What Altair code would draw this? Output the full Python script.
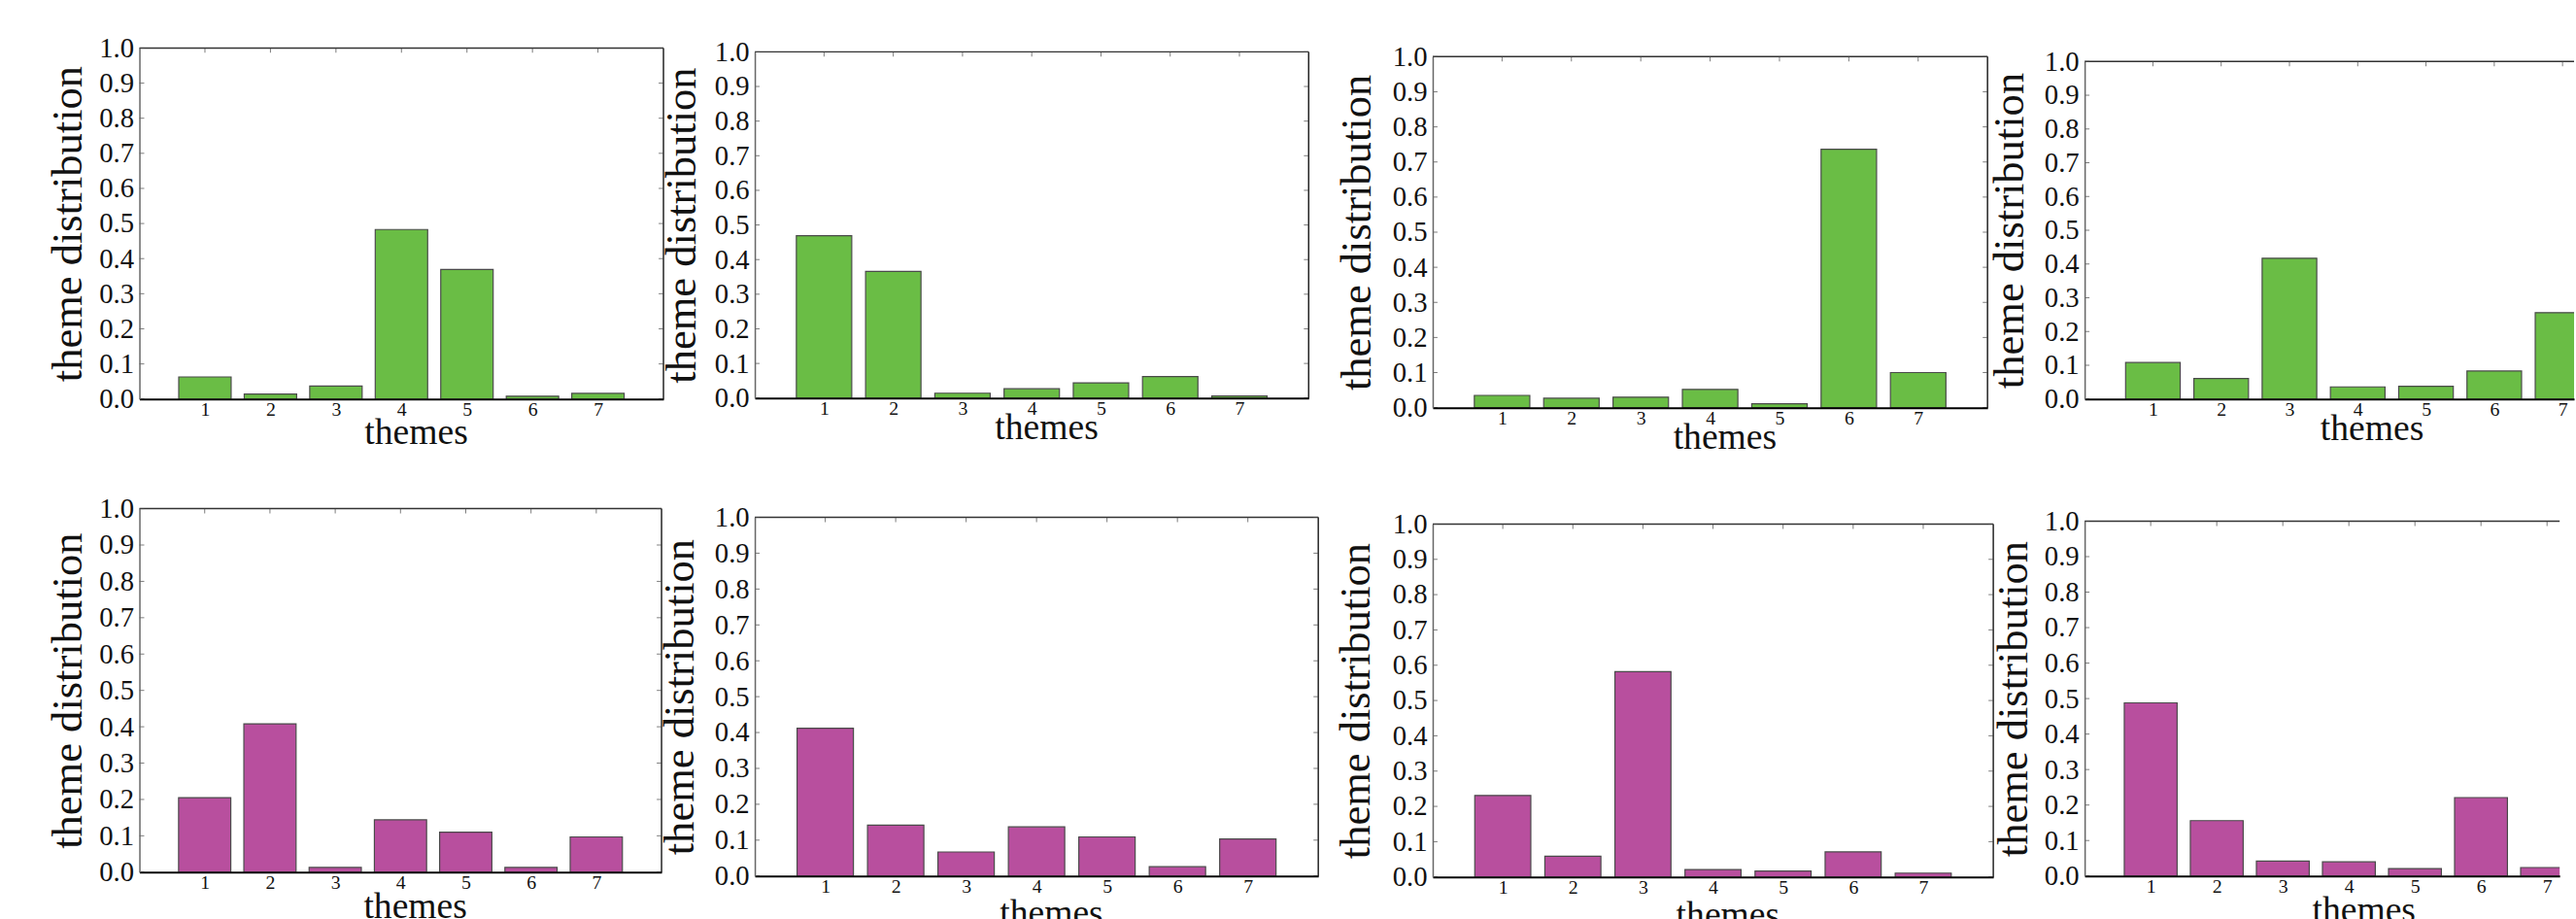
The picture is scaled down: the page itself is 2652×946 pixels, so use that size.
import altair as alt
import pandas as pd

# ---------------- data ----------------
themes = [1, 2, 3, 4, 5, 6, 7]
y_ticks = [0.0, 0.1, 0.2, 0.3, 0.4, 0.5, 0.6, 0.7, 0.8, 0.9, 1.0]
x_title = "themes"
y_title = "theme distribution"

green_1 = [0.063, 0.014, 0.037, 0.483, 0.369, 0.008, 0.016]
green_2 = [0.469, 0.366, 0.014, 0.027, 0.044, 0.062, 0.006]
green_3 = [0.035, 0.027, 0.030, 0.052, 0.011, 0.736, 0.100]
green_4 = [0.108, 0.061, 0.417, 0.036, 0.038, 0.083, 0.256]
magenta_1 = [0.205, 0.408, 0.013, 0.144, 0.110, 0.013, 0.097]
magenta_2 = [0.412, 0.142, 0.067, 0.137, 0.109, 0.026, 0.103]
magenta_3 = [0.231, 0.059, 0.582, 0.021, 0.017, 0.071, 0.011]
magenta_4 = [0.488, 0.156, 0.042, 0.040, 0.021, 0.221, 0.024]

GREEN = "#6ABD45"
MAGENTA = "#B84F9E"
FONT = "Liberation Serif"


def spacer(w, h):
    return alt.Chart(pd.DataFrame({"s": [0]})).mark_point(size=0, opacity=0).encode(
        x=alt.X("s:Q", axis=None, scale=alt.Scale(domain=[-1, 1])),
        y=alt.Y("s:Q", axis=None, scale=alt.Scale(domain=[-1, 1])),
    ).properties(width=w, height=h)


def panel(values, color, w, dy, h, xmax, ytx, xtx, xty):
    H = dy + h  # group height; plot occupies [dy, dy+h]
    df = pd.DataFrame({"theme": themes, "value": values})
    xs = alt.Scale(domain=[0, xmax], nice=False, zero=False)
    ys = alt.Scale(domain=[0, 1], nice=False, range=[H, dy])
    x_axis = alt.Axis(
        values=themes, format="d", title=x_title,
        labelFontSize=20, labelPadding=1, labelFlush=False, labelOverlap=False,
        ticks=False, tickSize=0, domainColor="#000000", domainWidth=2,
        titleFontSize=38, titleX=xtx, titleY=xty, titleBaseline="alphabetic",
        titleAlign="center", zindex=1,
    )
    y_axis = alt.Axis(
        values=y_ticks, format=".1f", title=y_title,
        labelFontSize=29, labelPadding=6, labelOverlap=False, labelSeparation=0,
        ticks=False, tickSize=0, domainColor="#666666", domainWidth=1.5,
        titleFontSize=45, titleX=ytx, titleY=dy + h / 2, titleAngle=270,
        titleBaseline="alphabetic", titleAlign="center", zindex=1,
    )
    bars = alt.Chart(df).transform_calculate(
        x0="datum.theme - 0.4", x1="datum.theme + 0.4"
    ).mark_bar(fill=color, stroke="#4a4a4a", strokeWidth=1.2, clip=True).encode(
        x=alt.X("x0:Q", scale=xs, axis=x_axis),
        x2="x1:Q",
        y=alt.Y("value:Q", scale=ys, axis=y_axis),
        y2=alt.Y2Datum(0),
    )
    one = pd.DataFrame({"k": [0]})
    top_rule = alt.Chart(one).mark_rule(color="#333333", strokeWidth=1.5).encode(
        y=alt.YDatum(1.0, scale=ys, axis=y_axis)
    )
    tdf = pd.DataFrame({"t": themes})
    top_ticks = alt.Chart(tdf).mark_tick(
        orient="vertical", size=5, thickness=1, yOffset=2.5, color="#444444"
    ).encode(
        x=alt.X("t:Q", scale=xs, axis=x_axis),
        y=alt.YDatum(1.0, scale=ys, axis=y_axis),
    )
    ydf = pd.DataFrame({"t": y_ticks})
    left_ticks = alt.Chart(ydf).mark_tick(
        orient="horizontal", size=5, thickness=1, xOffset=2.5, color="#444444"
    ).encode(
        x=alt.XDatum(0, scale=xs, axis=x_axis),
        y=alt.Y("t:Q", scale=ys, axis=y_axis),
    )
    layers = [bars, top_rule, top_ticks, left_ticks]
    if xmax >= 8:
        right_rule = alt.Chart(one).mark_rule(color="#222222", strokeWidth=1.5).encode(
            x=alt.XDatum(8, scale=xs, axis=x_axis),
            y=alt.YDatum(0, scale=ys, axis=y_axis),
            y2=alt.Y2Datum(1),
        )
        right_ticks = alt.Chart(ydf).mark_tick(
            orient="horizontal", size=5, thickness=1, xOffset=-2.5, color="#444444"
        ).encode(
            x=alt.XDatum(8, scale=xs, axis=x_axis),
            y=alt.Y("t:Q", scale=ys, axis=y_axis),
        )
        layers += [right_rule, right_ticks]
    return alt.layer(*layers).properties(width=w, height=H)


# row 1 starts at y=44, row 2 at y=523 (plot areas offset inside via dy)
P1 = panel(green_1, GREEN, 545, 0, 365, 8, -61, 287.5, 46)
P2 = panel(green_2, GREEN, 576, 4, 360, 8, -62, 303, 42)
P3 = panel(green_3, GREEN, 577, 9, 365, 8, -65, 303.5, 42)
P4 = panel(green_4, GREEN, 509, 14, 351, 509 / 71.0, -64, 298.5, 42)
P5 = panel(magenta_1, MAGENTA, 543, 0, 378, 8, -61, 286.5, 47)
P6 = panel(magenta_2, MAGENTA, 586, 9, 373, 8, -64, 308, 50)
P7 = panel(magenta_3, MAGENTA, 583, 16, 367, 8, -66, 306.5, 51)
P8 = panel(magenta_4, MAGENTA, 494, 13, 369, 494 / 68.7, -60, 290, 47)

items = [
    spacer(1, 44), spacer(1, 1), spacer(1, 1), spacer(1, 1), spacer(1, 1), spacer(1, 1), spacer(1, 1), spacer(1, 1),
    spacer(142, 1), P1, spacer(90, 1), P2, spacer(119, 1), P3, spacer(94, 1), P4,
    spacer(1, 105), spacer(1, 1), spacer(1, 1), spacer(1, 1), spacer(1, 1), spacer(1, 1), spacer(1, 1), spacer(1, 1),
    spacer(144, 1), P5, spacer(95, 1), P6, spacer(112, 1), P7, spacer(95, 1), P8,
]

chart = alt.concat(
    *items, columns=8, spacing=0, bounds="flush", align="none"
).properties(padding=0).configure_view(
    stroke="transparent"
).configure_axis(
    labelFont=FONT, titleFont=FONT, labelColor="#111111", titleColor="#111111",
    titleFontWeight="normal", grid=False, labelOverlap=False,
)

chart.save("out.html", embed_options={"renderer": "svg", "actions": False})
